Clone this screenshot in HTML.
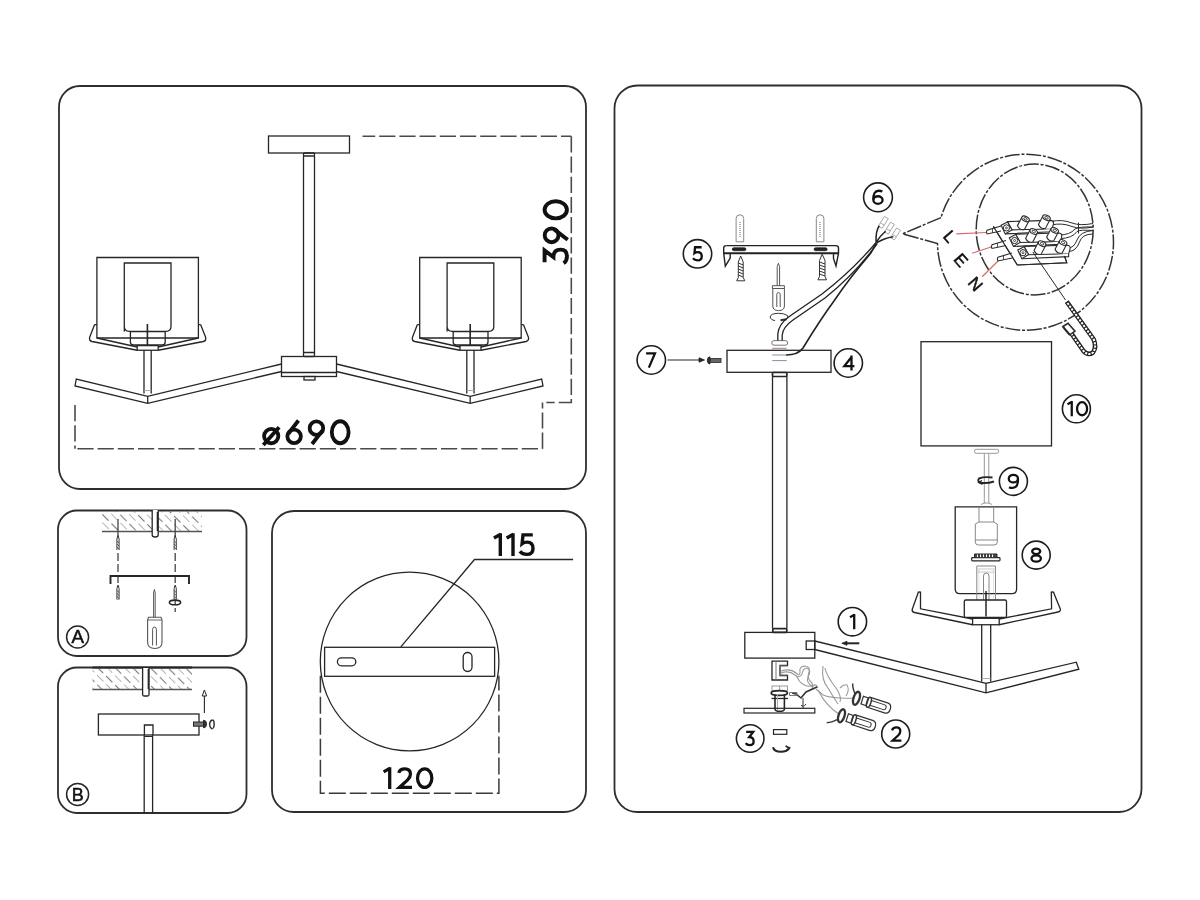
<!DOCTYPE html>
<html><head><meta charset="utf-8">
<style>
html,body{margin:0;padding:0;background:#fff;width:1200px;height:900px;overflow:hidden}
svg{display:block}
text{font-family:"Liberation Sans",sans-serif;fill:#111;stroke:#111;stroke-width:0.5}
svg{will-change:transform}
</style></head>
<body>
<svg width="1200" height="900" viewBox="0 0 1200 900">
<rect x="0" y="0" width="1200" height="900" fill="#fff"/>
<g fill="none" stroke="#2e2e2e" stroke-width="1.8">
  <rect x="59" y="86" width="527" height="403" rx="21"/>
  <rect x="58" y="510.5" width="188.5" height="145.5" rx="19"/>
  <rect x="58" y="667.5" width="188.5" height="145.5" rx="19"/>
  <rect x="272" y="511" width="314" height="301" rx="22"/>
  <rect x="614.5" y="85.5" width="527" height="726.5" rx="23"/>
</g>

<!-- PANEL 1 -->
<g id="p1" fill="none" stroke="#262626" stroke-width="1.3">
  <!-- top plate and rod -->
  <rect x="268.5" y="136" width="81" height="17"/>
  <rect x="303.5" y="153" width="11" height="3" rx="1"/>
  <line x1="303.5" y1="156" x2="303.5" y2="353"/>
  <line x1="314.5" y1="156" x2="314.5" y2="353"/>
  <rect x="303.5" y="352.5" width="11" height="4" rx="1"/>
  <!-- hub -->
  <rect x="281.5" y="356.5" width="55" height="20"/>
  <line x1="281.5" y1="372.5" x2="336.5" y2="372.5"/>
  <rect x="304" y="376.5" width="11" height="3.5"/>
  <!-- arms -->
  <polyline points="281.5,364 147.7,396.3 76.3,379 75,386 147.7,403.3 281.5,371.5"/>
  <polyline points="336.5,364 470.2,396.3 541.7,379 543,386 470.2,403.3 336.5,371.5"/>
  <line x1="147.7" y1="396.3" x2="147.7" y2="403.3"/>
  <line x1="470.2" y1="396.3" x2="470.2" y2="403.3"/>
  <!-- left lamp -->
  <g id="lamp">
    <path d="M96.9,257.5 H198.4 V338 H96.9 Z"/>
    <path d="M124.3,331.6 V263 H171 V326.5 Q171,331.3 166,331.3 H129.3 Q124.3,331.3 124.3,326.5"/>
    <path d="M130.4,331.6 V342 Q130.4,345 133.4,345 H162.2 Q165.2,345 165.2,342 V331.6 Z"/>
    <line x1="147.4" y1="324" x2="147.4" y2="345" stroke-width="1.6"/>
    <path d="M94.6,324.6 L89.6,337.5 Q89,340.8 92,341.5 L137.2,350.25"/>
    <path d="M200.6,324.6 L205.7,337.5 Q206.3,340.8 203.3,341.5 L158.2,350.25"/>
    <path d="M94.6,324.6 H96.9 M198.4,324.6 H200.6"/>
    <path d="M96.9,338 L137.2,347 M198.4,338 L158.2,347"/>
    <rect x="137.2" y="345.6" width="21" height="4.65"/>
    <line x1="144" y1="350.25" x2="144" y2="393.4"/>
    <line x1="151.2" y1="350.25" x2="151.2" y2="393.4"/>
    <line x1="144" y1="390.5" x2="151.2" y2="390.5" stroke="#aaa" stroke-width="1"/>
  </g>
  <use href="#lamp" transform="translate(322.8,0)"/>
</g>
<!-- dimension lines panel 1 -->
<g fill="none" stroke="#4a4a4a" stroke-width="1.6" stroke-dasharray="16.2,4">
  <path d="M362.5,136.3 H571.3" stroke-dashoffset="3.5"/>
  <path d="M571.3,136.3 V402.5 H546.3"/>
  <path d="M75,405 V448.8"/>
  <path d="M75,448.8 H542.5" stroke-dashoffset="17.8"/>
  <path d="M542.5,448.8 V402.5"/>
</g>

<!-- PANEL A -->
<defs>
  <pattern id="hatch" patternUnits="userSpaceOnUse" width="12.4" height="13" patternTransform="rotate(-45)">
    <line x1="0" y1="0" x2="0" y2="13" stroke="#7a7a7a" stroke-width="1.1" stroke-dasharray="9,4"/>
    <line x1="6.2" y1="0" x2="6.2" y2="13" stroke="#7a7a7a" stroke-width="1.1" stroke-dasharray="9,4" stroke-dashoffset="6"/>
  </pattern>
</defs>
<g fill="none" stroke="#262626" stroke-width="1.3">
  <rect x="102" y="511" width="100" height="20" fill="url(#hatch)" stroke="none"/>
  <line x1="102" y1="531.5" x2="202" y2="531.5" stroke="#555" stroke-width="1.5"/>
  <path d="M152.2,510 V535 Q152.2,537 155.2,537 Q158.2,537 158.2,535 V510" fill="#fff"/>
  <line x1="157.5" y1="512" x2="157.5" y2="531" stroke-width="1.6"/>
  <path d="M118,519 V531 M175.2,519 V531" stroke="#444" stroke-width="1.3"/>
  <path d="M118,531 V600 M175.2,531 V612" stroke="#444" stroke-width="1.3" stroke-dasharray="8,3"/>
  <g id="anc"><path d="M116.9,550 V539 L118,535.5 L119.1,539 V550" stroke-width="0.9" fill="#fff"/>
  <path d="M116.9,541 L119.1,543 M116.9,544 L119.1,546 M116.9,547 L119.1,549" stroke-width="0.7"/></g>
  <use href="#anc" transform="translate(57.2,0)"/>
  <use href="#anc" transform="translate(0,49.5)"/>
  <use href="#anc" transform="translate(57.2,49.5)"/>
  <path d="M110.5,584 V576 H189 V584" stroke-width="1.9"/>
  <ellipse cx="175" cy="602.4" rx="5.6" ry="2.3" stroke-width="1.6"/>
  <!-- screwdriver -->
  <g stroke="#555">
  <path d="M153.6,617.5 V593 L154.4,589.5 L155.2,593 V617.5" stroke-width="1"/>
  <path d="M148.5,617.3 H161 L162,620 V642 Q162,648.5 155,648.5 Q147.6,648.5 147.6,642 V620 Z" stroke-width="1.1"/>
  <line x1="148" y1="620" x2="161.6" y2="620" stroke-width="0.9"/>
  <path d="M152.6,645.5 V629.5 Q152.6,627 154.5,627 Q156.4,627 156.4,629.5 V645.5" stroke-width="1"/>
  </g>
  <circle cx="77.6" cy="637" r="11" stroke-width="1.5"/>
</g>
<text x="71.5" y="643.3" font-size="17.5" textLength="12.5" lengthAdjust="spacingAndGlyphs">A</text>

<!-- PANEL B -->
<g fill="none" stroke="#262626" stroke-width="1.3">
  <rect x="92.4" y="668" width="99.6" height="21.4" fill="url(#hatch)" stroke="none"/>
  <line x1="92.4" y1="667.5" x2="192" y2="667.5" stroke-width="1.8"/>
  <line x1="92.4" y1="689.5" x2="192" y2="689.5" stroke="#555" stroke-width="1.5"/>
  <path d="M142.6,668 V694.5 Q142.6,696 144,696 H147.6 Q149,696 149,694.5 V668" fill="#fff"/>
  <line x1="148.4" y1="669" x2="148.4" y2="689" stroke-width="1.5"/>
  <line x1="204.4" y1="713" x2="204.4" y2="692" stroke-width="1.1"/>
  <path d="M202.2,696 L204.4,690 L206.6,696 Z" stroke-width="1" fill="#fff"/>
  <rect x="98.4" y="714" width="100.6" height="21"/>
  <path d="M144.4,735 V725 H153 V735"/>
  <line x1="144.2" y1="735" x2="144.2" y2="813"/>
  <line x1="152.6" y1="735" x2="152.6" y2="813"/>
  <line x1="144.2" y1="736.5" x2="152.6" y2="736.5" stroke-width="1"/>
  <!-- screw -->
  <rect x="193.5" y="722" width="10" height="4.2" fill="#777" stroke-width="1"/>
  <path d="M203.5,720.3 Q206.5,720.3 206.5,724 Q206.5,727.8 203.5,727.8 Z" fill="#333" stroke-width="1"/>
  <path d="M212.3,719.8 Q209.6,721 209.6,724.3 Q209.8,728.3 212.6,729 M212.6,719.6 Q214.4,720.8 214.2,724.2 Q214,727.2 213.2,728.3" stroke-width="1.4"/>
  <circle cx="77.6" cy="794.4" r="11" stroke-width="1.5"/>
</g>
<text x="71.8" y="800.7" font-size="17.5" textLength="12" lengthAdjust="spacingAndGlyphs">B</text>

<!-- PANEL 120 -->
<g fill="none" stroke="#262626" stroke-width="1.3">
  <circle cx="409.6" cy="661.5" r="89.3"/>
  <rect x="324.6" y="647.3" width="170" height="29" fill="#fff"/>
  <rect x="337.4" y="657.8" width="18.4" height="8" rx="4"/>
  <rect x="463.2" y="652.5" width="8.8" height="19" rx="4.4"/>
  <polyline points="400.8,646.8 474.5,559.5 573.1,559.5"/>
</g>
<g fill="none" stroke="#3a3a3a" stroke-width="1.5" stroke-dasharray="17,4">
  <path d="M320.4,675.7 V793.3 H498.9 V675.7"/>
</g>

<!-- RIGHT PANEL -->
<g fill="none" stroke="#1e1e1e" stroke-width="1.6">
  <!-- labels circles -->
  <circle cx="697.5" cy="253.8" r="14.2"/>
  <circle cx="878" cy="197.3" r="14.4"/>
  <circle cx="651.3" cy="360" r="14.2"/>
  <circle cx="848.3" cy="363" r="14.2"/>
  <circle cx="1076.4" cy="408.8" r="14"/>
  <circle cx="1013.4" cy="481.4" r="14"/>
  <circle cx="1036.2" cy="555.1" r="14"/>
  <circle cx="852.4" cy="621.7" r="14.2"/>
  <circle cx="895.7" cy="734" r="14"/>
  <circle cx="750.2" cy="738.5" r="13.8"/>
</g>
<defs><g id="g0"><ellipse cx="40" cy="-50" rx="33" ry="43"/></g><g id="g1"><path d="M30,-100 V0 M2,-79 L32,-96" stroke-linecap="butt"/></g><g id="g2"><path d="M9,-74 Q14,-93 37,-93 Q63,-93 63,-69 Q63,-55 50,-42 L12,-7 H70" stroke-linejoin="miter" stroke-linecap="butt"/></g><g id="g3"><path d="M8,-93 H54 L28,-59 Q57,-59 57,-31 Q57,-7 31,-7 Q13,-7 5,-20" stroke-linejoin="miter" stroke-linecap="butt"/></g><g id="g4"><path d="M53,0 V-100 M56,-93 L6,-30 H72" stroke-linejoin="miter" stroke-linecap="butt"/></g><g id="g5"><path d="M62,-93 H19 L15,-54 Q24,-61 37,-61 Q63,-61 63,-33 Q63,-7 35,-7 Q16,-7 5,-20" stroke-linejoin="miter" stroke-linecap="butt"/></g><g id="g6"><circle cx="33" cy="-34" r="26.5"/><path d="M50,-96 L10,-44" stroke-linecap="butt"/></g><g id="g7"><path d="M4,-93 H62 L22,0" stroke-linejoin="miter" stroke-linecap="butt"/></g><g id="g8"><circle cx="34" cy="-74" r="19"/><circle cx="34" cy="-29" r="23"/></g><g id="g9"><circle cx="33" cy="-66" r="26.5"/><path d="M16,-4 L56,-56" stroke-linecap="butt"/></g><g id="go"><circle cx="35" cy="-35" r="28"/><path d="M4,0 L66,-70" stroke-linecap="butt"/></g><g id="g6r"><ellipse cx="37.3" cy="-32" rx="30.3" ry="25"/><path d="M7,-34 Q5,-93 42,-93 Q57,-93 66,-88" stroke-linecap="butt"/></g><g id="g9r"><ellipse cx="37.3" cy="-68" rx="30.3" ry="25"/><path d="M67.6,-66 Q69.6,-7 32.6,-7 Q17.6,-7 8.6,-12" stroke-linecap="butt"/></g><g id="g8r"><ellipse cx="38" cy="-75" rx="26.5" ry="18"/><ellipse cx="38" cy="-28" rx="31" ry="21"/></g></defs>
<g fill="none" stroke="#111" stroke-width="15">
<use href="#go" transform="translate(262.30,445.00) scale(0.255)"/>
<use href="#g6" transform="translate(285.70,445.00) scale(0.255)"/>
<use href="#g9" transform="translate(308.00,445.00) scale(0.255)"/>
<use href="#g0" transform="translate(330.00,445.00) scale(0.255)"/>
<g transform="translate(568.75,264.7) rotate(-90)">
<use href="#g3" transform="translate(0.26,0.00) scale(0.26)"/>
<use href="#g9" transform="translate(20.80,0.00) scale(0.26)"/>
<use href="#g0" transform="translate(44.50,0.00) scale(0.26)"/>
</g>
<use href="#g1" transform="translate(493.50,556.00) scale(0.227)"/>
<use href="#g1" transform="translate(506.20,556.00) scale(0.227)"/>
<use href="#g5" transform="translate(518.70,556.00) scale(0.227)"/>
<use href="#g1" transform="translate(383.20,789.00) scale(0.217)"/>
<use href="#g2" transform="translate(396.80,789.00) scale(0.217)"/>
<use href="#g0" transform="translate(416.00,789.00) scale(0.217)"/>
<use href="#g5" transform="translate(692.18,261.40) scale(0.152)"/>
<use href="#g6r" transform="translate(872.30,204.90) scale(0.152)"/>
<use href="#g7" transform="translate(645.52,367.60) scale(0.152)"/>
<use href="#g4" transform="translate(843.44,370.60) scale(0.152)"/>
<use href="#g9r" transform="translate(1007.70,489.00) scale(0.152)"/>
<use href="#g8r" transform="translate(1030.42,562.70) scale(0.152)"/>
<use href="#g1" transform="translate(849.66,629.30) scale(0.152)"/>
<use href="#g2" transform="translate(890.76,741.60) scale(0.152)"/>
<use href="#g3" transform="translate(744.96,746.10) scale(0.152)"/>
<use href="#g1" transform="translate(1067.2,416.3) scale(0.152)"/>
<use href="#g0" transform="translate(1076,416.3) scale(0.152)"/>
</g>

<!-- bracket 5 -->
<g fill="none" stroke="#222" stroke-width="1.4">
  <path d="M726.4,245.6 H835.8 Q838.5,245.6 838.5,248 V253.2 L836,266 L833.5,258.5 V253.2" />
  <path d="M726.4,245.6 Q723.7,245.6 723.7,248 V253.2 L725.3,266.2 L730.2,258 V253.2"/>
  <line x1="723.7" y1="253.2" x2="838.5" y2="253.2" stroke-width="2"/>
  <rect x="732.3" y="247.8" width="13.6" height="2.9" rx="1.45" fill="#222" stroke-width="0.8"/>
  <rect x="814.1" y="247.8" width="13" height="2.9" rx="1.45" fill="#222" stroke-width="0.8"/>
</g>
<g fill="none" stroke="#888" stroke-width="1">
  <path d="M736.1,241.8 V218.5 Q736.1,214.8 739.9,214.8 Q743.7,214.8 743.7,218.5 V241.8 Z"/>
  <path d="M816.3,241.8 V218.5 Q816.3,214.8 820.1,214.8 Q823.9,214.8 823.9,218.5 V241.8 Z"/>
  <line x1="740" y1="222" x2="740" y2="238" stroke="#666" stroke-dasharray="1,1"/>
  <line x1="820" y1="222" x2="820" y2="238" stroke="#666" stroke-dasharray="1,1"/>
</g>
<g fill="none" stroke="#333" stroke-width="1">
  <path d="M740.7,256 L738.3,262 V277.5 L736.7,280.8 H744.8 L743.2,277.5 V262 Z"/>
  <path d="M738.3,263 L743.2,265 M738.3,266 L743.2,268 M738.3,269 L743.2,271 M738.3,272 L743.2,274 M738.3,275 L743.2,277" />
  <path d="M822.2,254.3 L819.5,260.5 V276.5 L817.9,279.8 H826.6 L825,276.5 V260.5 Z"/>
  <path d="M819.5,262 L825,264 M819.5,265 L825,267 M819.5,268 L825,270 M819.5,271 L825,273 M819.5,274 L825,276" />
</g>
<!-- screwdriver at bracket -->
<g fill="none" stroke="#333" stroke-width="1">
  <g stroke="#555">
  <path d="M777.2,285.7 V266.5 L778.4,263.3 L779.6,266.5 V285.7"/>
  <path d="M772.4,285.7 H784.4 V288.5 H772.4 Z"/>
  <path d="M772.8,288.5 V306 Q772.8,310.6 778.6,310.6 Q784.4,310.6 784.4,306 V288.5"/>
  <path d="M776.8,307 V294.5 Q776.8,292.6 778.5,292.6 Q780.2,292.6 780.2,294.5 V307"/>
  </g>
  <path d="M786,319 Q789,317.5 787.5,315.5 Q784,313.2 778.5,313.3 Q770.5,313.5 770.2,317 Q770.5,320 775,320.5" />
  <path d="M780.5,320.3 L786.5,319.2" stroke-width="2"/>
</g>
<!-- nut on top of canopy -->
<g fill="none" stroke="#777" stroke-width="1">
  <rect x="771.7" y="340.6" width="16" height="4.6" rx="2.3"/>
  <line x1="772.2" y1="348.3" x2="786.7" y2="348.3" stroke="#a08090"/>
  <line x1="772.2" y1="355" x2="786.7" y2="355" stroke="#8c8c9c"/>
  <line x1="772.2" y1="360.6" x2="786.7" y2="360.6" stroke="#8c8ca8"/>
</g>
<!-- cable -->
<g fill="none" stroke="#222" stroke-width="1.3">
  <path d="M777.8,340.6 V334 Q778.5,324 790,316 L822,294 Q852,271 876.1,242.5"/>
  <path d="M782.2,340.6 V335 Q783,327 793,320 L825,298 Q855,274 877.3,243.5"/>
  <path d="M786.1,355 Q798,355 803,348 Q820,320 834.7,300 Q848,280 870.7,253.3 L876.3,243" stroke-width="1.6"/>
  
</g>
<!-- connector 6 -->
<g fill="none" stroke="#a8a8a8" stroke-width="1">
  <g id="mod"><path d="M878.3,226.1 L884.4,216.4 L888.3,218.6 L882.2,228.3 Z" fill="#fff"/>
  <path d="M880.3,222.9 L884.2,225.1"/></g>
  <use href="#mod" transform="translate(6.1,5.8)"/>
  <use href="#mod" transform="translate(12.2,11.6)"/>
</g>
<g fill="none" stroke="#222" stroke-width="1.5">
  <path d="M876.1,242.5 Q875.5,231 879.3,225.8 M876.1,242.5 Q880,236 885.6,231.3 M876.6,243 Q884,238 893.3,236.7"/>
</g>
<!-- canopy 4 -->
<g fill="none" stroke="#262626" stroke-width="1.3">
  <rect x="727" y="350.3" width="104" height="22"/>
  <rect x="772.5" y="372.5" width="14.4" height="4" rx="1" stroke-width="1.7"/>
  <line x1="772.5" y1="376.5" x2="772.5" y2="628.6"/>
  <line x1="786.9" y1="376.5" x2="786.9" y2="628.6"/>
  <rect x="772.8" y="628.6" width="14" height="3.8" rx="1" stroke-width="1.7"/>
  <!-- arrow 7 -->
  <line x1="667.5" y1="360" x2="700" y2="360" stroke-width="1.1"/>
  <path d="M699,357.8 L704.5,360 L699,362.2 Z" fill="#222" stroke-width="0.8"/>
  <rect x="710" y="358.4" width="11" height="4" fill="#666" stroke-width="0.8"/>
  <path d="M710,356.8 Q707.3,356.8 707.3,360.3 Q707.3,364 710,364 Z" fill="#333" stroke-width="0.8"/>
</g>
<!-- hub bottom -->
<g fill="none" stroke="#262626" stroke-width="1.3">
  <rect x="744.8" y="632.4" width="70" height="25.7"/>
  <rect x="806.2" y="641" width="8.6" height="8.5"/>
  <polyline points="814.8,641 986,683.4 1076.3,662.2 1078.8,669.2 986,692.9 814.8,649.5"/>
  <line x1="986" y1="683.4" x2="986" y2="692.9"/>
  <!-- arrow 1 -->
  <line x1="846" y1="643.3" x2="859.3" y2="643.3" stroke-width="2"/>
  <path d="M847,641.3 L841.8,643.3 L847,645.3 Z" fill="#222" stroke-width="0.8"/>
  <!-- bracket below hub -->
  <path d="M772,661.2 H787.5 V665.5 H780 V675.5 H787.5 V680 H772 Z"/>
  <line x1="776" y1="661.2" x2="776" y2="680" stroke="#777" stroke-width="1"/>
  <path d="M780,666 H787.5 M780,675 H787.5" stroke="#888" stroke-width="1"/>
  <!-- nut, washer, bolt -->
  <rect x="772" y="686" width="15.5" height="4.8" stroke="#999" stroke-width="1"/>
  <line x1="779.7" y1="686" x2="779.7" y2="690.8" stroke="#999" stroke-width="1"/>
  <ellipse cx="779.3" cy="693" rx="8.2" ry="2.4" stroke-width="1.6"/>
  <path d="M775,694.6 V709 Q775,711.3 779.7,711.3 Q784.4,711.3 784.4,709 V694.6" stroke-width="1.6"/>
  <line x1="771.5" y1="698.5" x2="788" y2="698.5" stroke-width="1.3"/>
  <line x1="777.5" y1="695" x2="777.5" y2="710" stroke="#aaa" stroke-width="1"/>
  <rect x="744" y="708.3" width="70.8" height="4.7" stroke-width="1.2"/>
  <!-- small rect 3 and rotation -->
  <rect x="773.5" y="729.6" width="13.3" height="4.7" stroke-width="1.2"/>
  <path d="M773,747.3 Q774,751.8 781,751.8 Q787,751.5 789,748.5" stroke-width="2.1"/>
  <path d="M785.5,746 L789.5,748 L786,751" stroke-width="1.7"/>
</g>
<!-- wires and bulbs 2 -->
<g fill="none" stroke="#999" stroke-width="1.1">
  <path d="M781,671 Q790,668 796,673 Q800,677 800,672 Q799,667 804,666 Q811,666 809,672 Q807,677 810,681 Q814,684 812,689"/>
  <path d="M781,673 Q789,670 795,675 Q799,679 802,674 Q803,668 807,668 Q812,670 808,677 Q806,683 812,686"/>
  <path d="M797,677 Q802,688 813,686 Q816,683 818,688"/>
  <path d="M816,689 L823,695 Q833,699 855,698" />
  <path d="M818,690 Q825,705 840,715"/>
  <path d="M823,666 Q821,680 828,688 Q832,695 838,704"/>
  <path d="M825,668 Q826,675 836,688 Q842,697 840,702"/>
  <path d="M840,688 Q844,684 847,685 Q850,690 846,696"/>
</g>
<g fill="none" stroke="#333" stroke-width="1.2">
  <path d="M792,693 L796,694 L801,698 L806,692 L817,687" stroke-width="1.6"/>
  <path d="M789.5,692.5 H797 V695.5 H789.5 Z" stroke="#777" stroke-width="1"/>
  <path d="M803,698 V709 M801,705 Q803,708 806,704" stroke-width="1"/>
  <!-- bulb upper -->
  <g transform="translate(856.5,698.3) rotate(18)">
    <ellipse cx="0" cy="0" rx="3" ry="6.8" stroke-width="2.3"/>
    <path d="M-3,-4 Q-8,-10 -8,-13" stroke-width="1.4"/>
    <rect x="6" y="-4" width="5.5" height="8"/>
    <ellipse cx="13" cy="0" rx="2" ry="5.2" stroke-width="1.5"/>
    <path d="M13,-5.2 H31 Q35.5,-5.2 35.5,0 Q35.5,5.2 31,5.2 H13"/>
    <path d="M15,-2.5 H29 Q31,-2.5 31,0 Q31,2.5 29,2.5 H15" stroke-width="1"/>
  </g>
  <g transform="translate(841.5,715.8) rotate(18)">
    <ellipse cx="0" cy="0" rx="3" ry="6.8" stroke-width="2.3"/>
    <path d="M-3,5 Q-8,10 -12,11" stroke-width="1.4"/>
    <rect x="6" y="-4" width="5.5" height="8"/>
    <ellipse cx="13" cy="0" rx="2" ry="5.2" stroke-width="1.5"/>
    <path d="M13,-5.2 H31 Q35.5,-5.2 35.5,0 Q35.5,5.2 31,5.2 H13"/>
    <path d="M15,-2.5 H29 Q31,-2.5 31,0 Q31,2.5 29,2.5 H15" stroke-width="1"/>
  </g>
</g>

<!-- shade 10 and parts 9/8 -->
<g fill="none" stroke="#262626" stroke-width="1.3">
  <rect x="921" y="341.7" width="130.5" height="104.2"/>
  <rect x="974.5" y="449.3" width="24.3" height="4" rx="2" stroke="#999" stroke-width="1"/>
  <path d="M984.3,453.3 V503.5 M988.8,453.3 V503.5" stroke="#999" stroke-width="1"/>
  <path d="M981,504.5 L984.3,503 H988.8 L992,504.5" stroke="#999" stroke-width="1"/>
  <path d="M992.5,477.5 Q984,476.5 979,478.5 Q977,481 980,482.5 Q986,484 994,481.5" stroke-width="1.9"/>
  <path d="M982,480.5 L978.5,482.5 L982.5,484.5" stroke-width="1.2"/>
  <!-- glass 8 -->
  <path d="M955.2,506.9 H1016.6 V589 Q1016.6,593.6 1012,593.6 H959.8 Q955.2,593.6 955.2,589 Z"/>
  <path d="M979,507 V522 M993.7,507 V522" stroke="#888" stroke-width="1"/>
  <path d="M979,522 H993.7 L997.3,524 V542 Q997.3,545 994,545 H978.5 Q975.3,545 975.3,542 V524 Z" stroke="#888" stroke-width="1"/>
  <line x1="975.3" y1="540" x2="997.3" y2="540" stroke="#888" stroke-width="1"/>
  <rect x="971.7" y="557.6" width="28.3" height="3.2" rx="0.8" stroke-width="1.2"/>
  <path d="M974.5,557.6 V554 H997 V557.6" fill="#444" stroke-width="1"/>
  <path d="M977.5,554.5 V557 M980.5,554.5 V557 M983.5,554.5 V557 M986.5,554.5 V557 M989.5,554.5 V557 M992.5,554.5 V557" stroke="#fff" stroke-width="1"/>
  <path d="M976.8,600 V566 H995.5 V600" stroke="#888" stroke-width="1"/>
  <path d="M976.8,569 H995.5 M976.8,572 H995.5" stroke="#bbb" stroke-width="0.8"/>
  <path d="M979,570 V600 M993.5,570 V600" stroke="#bbb" stroke-width="0.8" stroke-dasharray="0.8,0.8"/>
  <path d="M983.5,600 V576 Q983.5,573 986.2,573 Q989,573 989,576 V600" stroke="#888" stroke-width="1"/>
  <line x1="986" y1="591" x2="986" y2="616.5" stroke-width="1.5"/>
  <rect x="964.3" y="600" width="42.2" height="17.4" rx="1.5"/>
  <rect x="972.6" y="618.3" width="26.6" height="6.45"/>
  <path d="M918.5,591.8 L912.2,609.5 Q911.8,612 914.5,612.5 L972.6,624.75 M918.5,591.8 L920.5,592 L920.5,608.8 L972.6,619"/>
  <path d="M1053.3,591.8 L1060.3,609 Q1060.8,611.5 1058,612 L999.2,624.75 M1053.3,591.8 L1051.3,592 L1051.6,608.8 L999.2,619"/>
  <line x1="981.7" y1="624.75" x2="981.7" y2="681.5"/>
  <line x1="990.7" y1="624.75" x2="990.7" y2="681.5"/>
  <line x1="981.7" y1="678.5" x2="990.7" y2="678.5" stroke="#aaa" stroke-width="1"/>
</g>

<!-- callout -->
<g fill="none" stroke="#333" stroke-width="1.5" stroke-dasharray="15,1.8,3,1.8">
  <path d="M941,217.6 L902.6,233.8 L937.5,243.6 A88,88 0 1 0 941,217.6"/>
  <ellipse cx="1034.7" cy="229.5" rx="58.5" ry="65.4"/>
</g>
<g font-size="17" style="stroke-width:0.6">
  <text transform="translate(950,236.5) rotate(49)" text-anchor="middle" y="6">L</text>
  <text transform="translate(961,260) rotate(49)" text-anchor="middle" y="6">E</text>
  <text transform="translate(975.5,284) rotate(49)" text-anchor="middle" y="6">N</text>
</g>
<g fill="none" stroke="#d86a6a" stroke-width="1.2">
  <line x1="956.3" y1="233.8" x2="986.3" y2="232.5"/>
  <line x1="972.1" y1="253.3" x2="991.7" y2="246.7"/>
  <line x1="982.1" y1="276.7" x2="998.3" y2="260.8"/>
</g>
<!-- terminal block -->
<g fill="none" stroke="#2a2a2a" stroke-width="1.1">
  <path d="M993.3,226.4 L1017.3,265 L1066.8,262.8 L1064.5,256" fill="#fff"/>
  <!-- left wires -->
  <g id="lw">
    <path d="M1001,226 L987,230.2 Q985.8,232 987,234 L1001,231" fill="#fff"/>
    <line x1="992.5" y1="228.6" x2="992.5" y2="232.8" stroke-width="0.8"/>
  </g>
  <use href="#lw" transform="translate(5,14.5)"/>
  <use href="#lw" transform="translate(11,27)"/>
  <path d="M993.3,226.4 L1017.3,265" />
  <!-- right wires -->
  <path d="M1051,221.5 Q1062,219 1072,223 Q1080,226 1093,223.5" stroke-width="1"/>
  <path d="M1051.5,225 Q1062,222.5 1072,226.5 Q1080,229.5 1093,227" stroke-width="1"/>
  <path d="M1059,235 Q1070,235 1075,229 Q1079,226.5 1093,227" stroke-width="1"/>
  <path d="M1060,238.5 Q1072,238.5 1077,231.5 Q1080,229.5 1093,230.5" stroke-width="1"/>
  <path d="M1068,248 Q1074,248 1077,240 Q1080,231.5 1093,230.5" stroke-width="1"/>
  <path d="M1068.5,251.5 Q1076,251.5 1079.5,242 Q1082,234 1093,234" stroke-width="1"/>
  <path d="M1078.5,222.5 V233.5" stroke-width="1"/>
  <!-- bars -->
  <g id="bar">
    <path d="M1007.5,221.6 L1051,220.4 Q1054,221 1053.5,224 L1052,229 L1012,229.9 Z" fill="#fff"/>
    <path d="M1005.25,233.9 L1052,231.8 L1052,229" fill="#fff"/>
    <path d="M1001.1,225.25 L1007.5,221.9 L1012,229.75 L1005.25,233.9 Z" fill="#fff"/>
    <circle cx="1006.4" cy="227.9" r="3.1" stroke-width="1"/>
    <circle cx="1006.4" cy="227.9" r="1" stroke-width="0.8"/>
    <g id="cyl">
      <path d="M1021.96,217.04 L1017.46,225.64 Q1019.8,230.8 1024.54,229.36 L1029.04,220.76" fill="#fff"/>
      <ellipse cx="1025.5" cy="218.9" rx="4" ry="2.4" transform="rotate(27.6 1025.5 218.9)" fill="#fff"/>
      <ellipse cx="1025.5" cy="218.9" rx="1.9" ry="1.1" transform="rotate(27.6 1025.5 218.9)" stroke-width="0.8"/>
    </g>
    <use href="#cyl" transform="translate(21,-1.2)"/>
  </g>
  <use href="#bar" transform="translate(8.2,12.6)"/>
  <use href="#bar" transform="translate(16.6,24.8)"/>
  <path d="M1017.3,265 L1066.8,262.8 L1064.5,256" />
<!-- ground wire + zip tie -->
  <line x1="1032.8" y1="252" x2="1065.5" y2="300" stroke-width="1"/>
  <path d="M1066.7,301.7 L1093.5,339 Q1097,347 1093,352.5 Q1088,356 1083.5,351 L1069,330" stroke="#222" stroke-width="4.6" stroke-linejoin="round"/>
  <path d="M1067.5,303 L1093.5,339 Q1097,347 1093,352.5 Q1088,356 1083.5,351 L1069.5,331" stroke="#fff" stroke-width="2" stroke-dasharray="2.2,1.2"/>
  <path d="M1062.9,326.5 L1068,323.3 L1075,331.2 L1069.8,334.8 Z" fill="#fff" stroke-width="1.5"/>
  <path d="M1062.9,326.5 L1065,329.5 L1069.8,334.8" stroke-width="2"/>
</g>
</svg>
</body></html>
